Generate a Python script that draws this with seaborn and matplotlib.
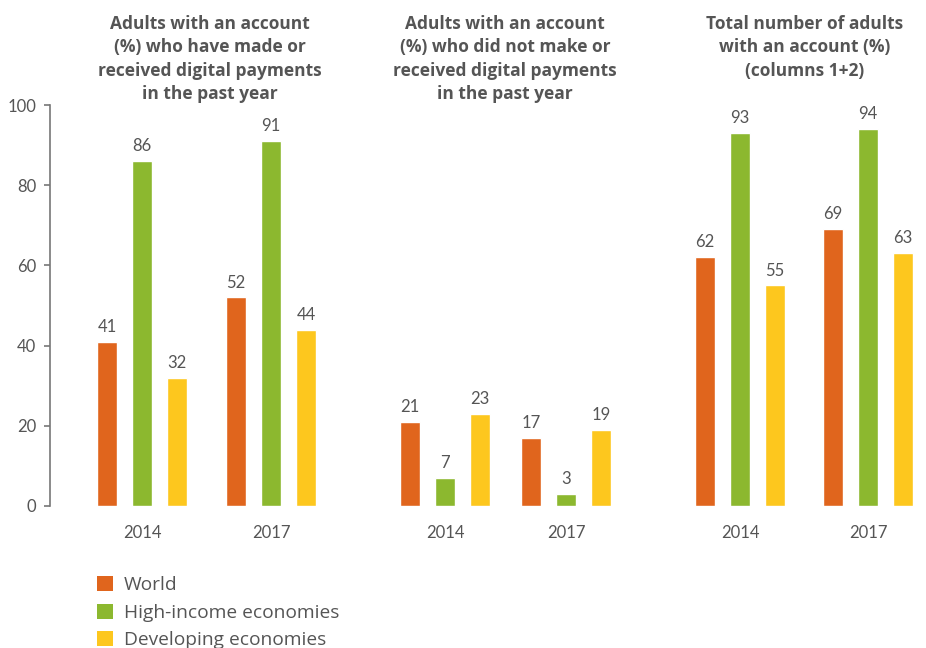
import matplotlib
matplotlib.use("Agg")
import matplotlib.pyplot as plt
import seaborn as sns
import pandas as pd
from matplotlib.patches import Patch

years = ["2014", "2017"]
groups = ["World", "High-income economies", "Developing economies"]
titles = [
    "Adults with an account\n(%) who have made or\nreceived digital payments\nin the past year",
    "Adults with an account\n(%) who did not make or\nreceived digital payments\nin the past year",
    "Total number of adults\nwith an account (%)\n(columns 1+2)",
]
made_digital = {"World": [41, 52], "High-income economies": [86, 91], "Developing economies": [32, 44]}
no_digital = {"World": [21, 17], "High-income economies": [7, 3], "Developing economies": [23, 19]}
total_account = {"World": [62, 69], "High-income economies": [93, 94], "Developing economies": [55, 63]}
panels = [made_digital, no_digital, total_account]
colors = ["#E0651D", "#8CB82F", "#FDC71E"]

sns.set_theme(style="white")
plt.rcParams["font.family"] = ["Lato", "DejaVu Sans"]
text_c = "#555555"

W, H = 926, 648
fig = plt.figure(figsize=(W / 100, H / 100), dpi=100)

# pixel layout: (left_px, group spacing px, first-group center px)
layout = [(50, 129, 142), (None, 121, 445), (None, 128, 868 - 128)]
y0_px, y100_px = 506, 105
bottom = (H - y0_px) / H
height = (y0_px - y100_px) / H
title_x = [210, 505, 805]

for i, (data, (lpx, sp, c0)) in enumerate(zip(panels, layout)):
    rows = []
    for g in groups:
        for y, v in zip(years, data[g]):
            rows.append({"year": y, "group": g, "value": v})
    df = pd.DataFrame(rows)
    if lpx is None:
        lpx = c0 - 0.5 * sp
    right_px = c0 + 1.5 * sp
    xmin = -(c0 - lpx) / sp
    ax = fig.add_axes([lpx / W, bottom, (right_px - lpx) / W, height])
    w = 3 * 35 / sp
    sns.barplot(data=df, x="year", y="value", hue="group", hue_order=groups,
                palette=colors, width=w, gap=0.43, ax=ax, legend=False,
                saturation=1, errorbar=None)
    ax.set_xlim(xmin, 1.5)
    ax.set_ylim(0, 100)
    ax.set_xlabel("")
    ax.set_ylabel("")
    for cont in ax.containers:
        ax.bar_label(cont, fmt="%d", padding=5, color=text_c, fontsize=12)
    ax.tick_params(axis="x", length=0, pad=14, labelsize=12, labelcolor=text_c)
    for s in ["top", "right", "bottom"]:
        ax.spines[s].set_visible(False)
    if i == 0:
        ax.spines["left"].set_color("#777777")
        ax.spines["left"].set_linewidth(1.2)
        ax.set_yticks([0, 20, 40, 60, 80, 100])
        ax.tick_params(axis="y", left=True, length=4, width=1.2, color="#777777",
                       pad=6, labelsize=12, labelcolor=text_c)
    else:
        ax.spines["left"].set_visible(False)
        ax.set_yticks([])
    ax.patch.set_alpha(0)
    fig.text(title_x[i] / W, 1 - 15 / H, titles[i], ha="center", va="top",
             fontsize=12.5, fontweight="bold", color=text_c, linespacing=1.38,
             family=["Open Sans", "DejaVu Sans"])

handles = [Patch(facecolor=c, edgecolor="none") for c in colors]
fig.legend(handles, groups, loc="upper left", bbox_to_anchor=(97 / W, 1 - 576 / H),
           frameon=False, labelcolor=text_c, handlelength=0.82,
           handleheight=0.82, handletextpad=0.6, labelspacing=0.5, borderpad=0,
           borderaxespad=0,
           prop={"family": ["Open Sans", "DejaVu Sans"], "size": 13.8})

fig.savefig("out.png", dpi=100)
